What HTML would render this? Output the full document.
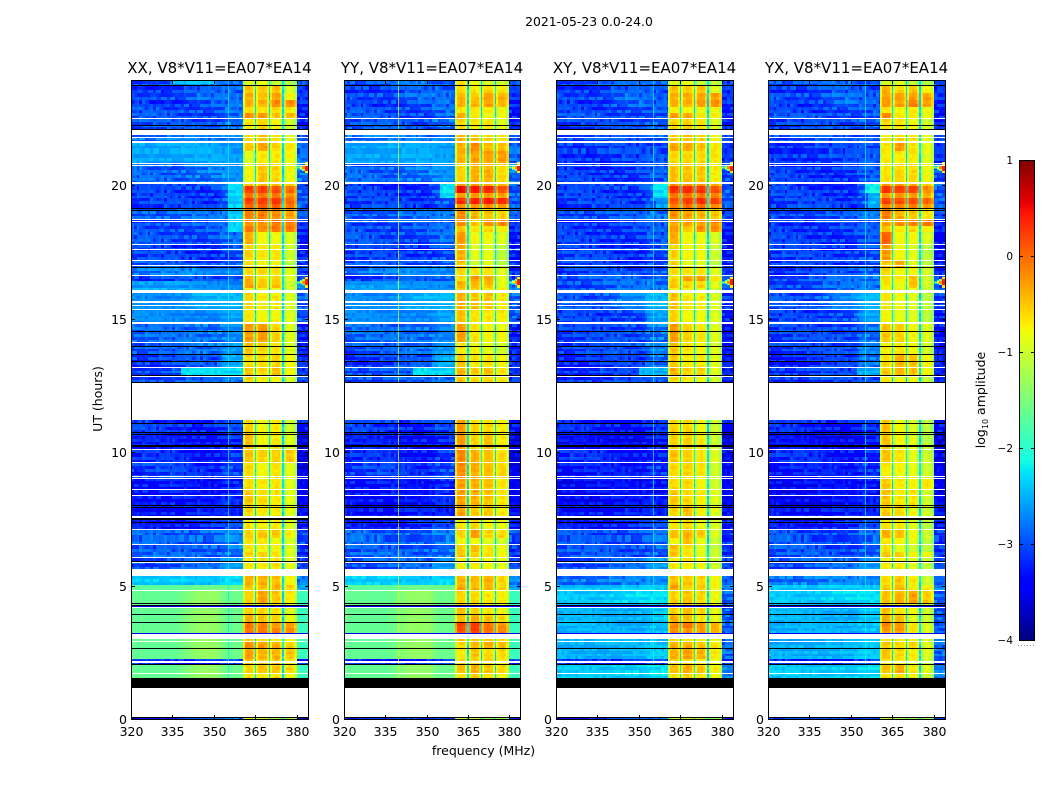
<!DOCTYPE html>
<html lang="en">
<head>
<meta charset="utf-8">
<title>2021-05-23 0.0-24.0</title>
<style>
html,body{margin:0;padding:0;background:#fff;width:1050px;height:800px;overflow:hidden}
svg{display:block}
text{font-family:"DejaVu Sans","Liberation Sans",sans-serif;fill:#000}
</style>
</head>
<body>
<svg id="figure" xmlns="http://www.w3.org/2000/svg" width="1050" height="800" viewBox="0 0 1050 800">
<text x="589" y="26" font-size="12.4" text-anchor="middle">2021-05-23 0.0-24.0</text>
<text transform="translate(102,399) rotate(-90)" font-size="12.5" text-anchor="middle">UT (hours)</text>
<text x="483.5" y="755" font-size="12.5" text-anchor="middle">frequency (MHz)</text>
<text transform="translate(985,400) rotate(-90)" font-size="12.5" text-anchor="middle">log<tspan font-size="8" dy="3">10</tspan><tspan dy="-3"> amplitude</tspan></text>
<g id="panels"></g>
<g id="colorbar"></g>
</svg>
<script>
// ---------- chart data (hours, MHz and log10 amplitude) ----------
const panelTitles = ["XX, V8*V11=EA07*EA14","YY, V8*V11=EA07*EA14","XY, V8*V11=EA07*EA14","YX, V8*V11=EA07*EA14"];
const xTickLabels = [320,335,350,365,380];
const yTickLabels = [0,5,10,15,20];
const cbarTickLabels = [1,0,-1,-2,-3,-4];

// top edge (UT hours) of each time band; a band ends where the next starts
const rowTopHours = [
23.90,23.71,23.45,23.18,22.92,22.70,22.47,22.06,21.57,21.27,20.79,20.03,19.96,19.70,19.51,19.29,19.14,
18.73,18.46,18.24,17.75,17.19,16.89,16.59,16.40,16.14,15.96,15.32,14.79,14.08,13.67,13.15,12.85,
12.58,
11.20,10.71,10.07,9.59,9.03,8.58,8.01,7.53,7.08,6.78,6.52,6.25,6.03,5.36,5.02,4.79,4.34,3.93,3.60,3.41,3.22,2.88,2.66,2.23,2.06,1.72,
1.54,0.06];

// parallel-hand background levels per band: [320-336, 344-351, 354-360, 380-384 MHz]
const lowParallel = [
[-3.0,-2.8,-2.9,-3.0],[-3.1,-3.0,-2.9,-3.2],[-3.0,-2.9,-2.9,-3.2],[-3.1,-3.0,-2.9,-3.2],[-3.0,-3.0,-2.9,-3.2],[-3.0,-3.0,-2.9,-3.2],
[-3.0,-3.0,-2.8,-3.2],[-2.8,-2.8,-2.7,-3.0],[-2.55,-2.55,-2.6,-2.9],[-2.55,-2.55,-2.6,-2.9],[-2.9,-2.8,-2.7,-2.8],
[-3.1,-3.1,-2.9,-2.9],[-3.1,-3.1,-2.9,-2.9],[-3.1,-3.1,-2.9,-2.9],[-3.1,-3.1,-2.9,-2.9],[-3.1,-3.1,-2.9,-2.9],
[-2.9,-2.9,-2.8,-3.0],[-3.0,-3.0,-2.9,-3.2],[-3.0,-3.0,-2.9,-3.2],[-3.0,-3.0,-2.9,-3.2],[-3.1,-3.1,-3.0,-3.2],[-3.0,-3.0,-2.9,-3.1],
[-2.8,-2.7,-2.7,-3.1],[-3.1,-3.0,-2.9,-3.1],[-2.6,-2.7,-2.7,-2.8],[-2.5,-2.7,-2.7,-2.8],[-2.7,-2.5,-2.5,-2.9],[-2.7,-2.7,-2.6,-2.9],
[-2.9,-2.8,-2.7,-3.2],[-3.0,-2.8,-2.6,-3.2],[-3.1,-3.0,-2.5,-3.2],[-3.0,-3.0,-2.4,-3.2],[-3.0,-3.0,-2.8,-3.1],
null,
[-3.1,-3.2,-3.1,-3.3],[-3.3,-3.3,-3.2,-3.5],[-3.2,-3.3,-3.1,-3.5],[-3.1,-3.2,-3.0,-3.5],[-3.3,-3.4,-3.2,-3.5],[-3.3,-3.4,-3.2,-3.5],
[-3.3,-3.3,-3.3,-3.4],[-3.3,-3.2,-3.1,-3.3],[-2.9,-2.9,-2.8,-3.0],[-2.9,-2.9,-2.8,-3.0],[-3.0,-2.9,-2.8,-3.1],[-2.9,-2.9,-2.8,-3.1],
[-3.0,-2.9,-2.6,-3.1],[-2.35,-2.45,-2.3,-2.8],[-1.7,-1.6,-1.6,-2.6],[-1.65,-1.35,-1.6,-1.9],[-1.65,-1.35,-1.6,-1.9],[-1.65,-1.35,-1.6,-1.9],
[-1.65,-1.35,-1.6,-1.9],[-1.65,-1.35,-1.6,-1.9],[-1.65,-1.35,-1.6,-1.9],[-1.65,-1.35,-1.6,-1.9],[-1.65,-1.35,-1.6,-1.9],[-3.2,-3.2,-3.1,-3.2],
[-1.65,-1.35,-1.6,-1.9],[-1.65,-1.35,-1.6,-1.9],
null,[-3.3,-3.0,-2.9,-3.3]];

// cross-hand background levels per band
const lowCross = [
[-3.0,-2.9,-2.9,-3.1],[-3.1,-3.0,-3.0,-3.2],[-3.0,-2.9,-3.0,-3.2],[-3.1,-2.9,-3.0,-3.2],[-3.1,-3.0,-3.0,-3.2],[-3.0,-3.0,-3.0,-3.2],
[-3.1,-3.0,-2.9,-3.2],[-3.0,-3.0,-2.9,-3.1],[-3.1,-3.1,-3.0,-3.2],[-3.1,-3.1,-3.0,-3.2],[-3.1,-3.1,-3.0,-3.0],
[-3.1,-3.1,-2.9,-2.9],[-3.1,-3.1,-2.9,-2.9],[-3.1,-3.1,-2.9,-2.9],[-3.1,-3.1,-2.9,-2.9],[-3.1,-3.1,-2.9,-2.9],
[-3.0,-3.0,-2.8,-3.1],[-3.1,-3.1,-3.0,-3.3],[-3.1,-3.1,-3.0,-3.3],[-3.1,-3.1,-3.0,-3.3],[-3.1,-3.1,-3.0,-3.3],[-3.1,-3.1,-3.0,-3.2],
[-3.1,-3.0,-2.9,-3.2],[-3.0,-2.9,-2.8,-3.0],[-3.0,-2.9,-2.8,-3.0],[-3.0,-2.9,-2.8,-3.0],[-3.0,-2.7,-2.5,-3.1],[-3.1,-3.0,-2.6,-3.2],
[-3.1,-3.0,-2.8,-3.3],[-3.1,-3.0,-2.7,-3.3],[-3.2,-3.1,-2.8,-3.3],[-3.1,-3.1,-2.5,-3.3],[-3.1,-3.1,-3.0,-3.3],
null,
[-3.2,-3.3,-3.2,-3.3],[-3.4,-3.4,-3.3,-3.5],[-3.2,-3.3,-3.2,-3.4],[-3.3,-3.3,-3.1,-3.4],[-3.4,-3.4,-3.3,-3.5],[-3.4,-3.4,-3.3,-3.5],
[-3.3,-3.3,-3.3,-3.4],[-3.3,-3.2,-3.1,-3.3],[-3.0,-3.0,-2.9,-3.1],[-3.0,-3.0,-2.9,-3.1],[-3.0,-3.0,-2.9,-3.1],[-3.0,-3.0,-2.9,-3.1],
[-3.0,-2.9,-2.6,-3.1],[-2.8,-2.8,-2.7,-3.0],[-2.4,-2.4,-2.4,-2.8],[-2.4,-2.3,-2.3,-2.9],[-2.5,-2.5,-2.4,-2.9],[-2.5,-2.5,-2.4,-2.9],
[-2.5,-2.5,-2.4,-2.9],[-2.5,-2.5,-2.4,-2.9],[-2.5,-2.5,-2.4,-2.9],[-2.5,-2.5,-2.4,-2.9],[-2.5,-2.5,-2.4,-2.9],[-3.2,-3.2,-3.1,-3.2],
[-2.4,-2.35,-2.3,-2.7],[-2.4,-2.35,-2.3,-2.7],
null,[-3.2,-3.0,-2.9,-3.2]];

// four in-band spectral-window levels per band, one table per correlation
const hotXX = [
[-.9,-.9,-1.1,-1.2],[-.5,-.5,-.5,-1.0],[-.4,-.5,-.3,-.8],[-.4,-.4,-.2,-.2],[-.7,-.7,-.6,-.7],[-.2,-.3,-.5,-.4],[-.7,-.6,-.8,-1.0],
[-.6,-.5,-.7,-.9],[-.5,-.3,-.6,-.7],[-.9,-.7,-.7,-.8],[-.8,-.5,-.6,-.8],[-.5,-.4,-.4,-.5],[.2,.2,.15,0],[-.1,-.1,-.1,-.2],[.2,.2,.25,0],
[0,0,0,-.1],[-.1,-.1,-.2,-.3],[-.2,-.2,-.1,-.1],[-.1,-.2,-.05,-.1],[-.4,-.8,-.8,-.9],[-.6,-.7,-.7,-1.0],[-.7,-.8,-.8,-1.1],
[-.6,-.6,-.7,-.9],[-.4,-.6,-.6,-.9],[-.3,-.5,-.5,-1.0],[-.7,-.7,-.8,-1.0],[-.6,-.7,-.7,-.9],[-.7,-.8,-.8,-.9],[-.3,-.3,-.6,-.9],
[-.5,-.6,-.7,-.9],[-.6,-.6,-.6,-.8],[-.5,-.6,-.5,-.8],[-.6,-.7,-.8,-1.0],
null,
[-.6,-.8,-.7,-1.0],[-.5,-.8,-.7,-.9],[-.5,-.6,-.6,-.5],[-.6,-.8,-.7,-.9],[-.6,-.7,-.7,-.9],[-.5,-.6,-.7,-.9],[-.6,-.7,-.7,-.9],[-.7,-.7,-.7,-.9],
[-.6,-.5,-.5,-.7],[-.7,-.7,-.8,-.9],[-.7,-.8,-.8,-.9],[-.6,-.6,-.7,-.9],[-.7,-.7,-.7,-.9],[-.4,-.4,-.5,-.8],[-.5,-.5,-.4,-.6],[-.6,-.3,-.5,-.7],
[-.6,-.6,-.7,-.9],[-.4,-.5,-.6,-.8],[-.1,-.15,-.3,-.3],[-.1,-.15,-.2,-.2],[-.5,-.6,-.7,-.8],[-.2,-.3,-.4,-.6],[-.3,-.4,-.4,-.5],[-.5,-.5,-.5,-.6],
[-.6,-.5,-.5,-.6],[-.7,-.7,-.7,-.8],
null,[-1.0,-1.1,-1.2,-1.2]];

const hotYY = [
[-.6,-.8,-1.0,-1.0],[-.6,-.7,-.6,-.7],[-.4,-.5,-.3,-.4],[-.4,-.4,-.3,-.4],[-.7,-.7,-.7,-.8],[-.4,-.7,-.8,-.8],[-.6,-.7,-.7,-.9],
[-.4,-.5,-.6,-.7],[-.4,-.2,-.5,-.5],[-.4,-.3,-.3,-.3],[-.6,-.4,-.4,-.6],[-.3,-.3,-.4,-.4],[.45,.4,.35,.1],[-.3,-.3,-.3,-.3],[.3,.35,.35,.3],
[-.2,-.2,-.2,-.3],[-.2,-.4,-.5,-.6],[-.2,-.5,-.2,-.2],[-.5,-.7,-.6,-.7],[-.3,-.8,-.8,-.9],[-.4,-.9,-.9,-1.1],[-.5,-1.0,-.9,-1.1],
[-.6,-.7,-.7,-.9],[-.6,-.3,-.4,-.9],[-.4,-.4,-.5,-.9],[-.6,-.6,-.7,-.8],[-.4,-.5,-.5,-.7],[-.5,-.7,-.7,-.7],[-.3,-.7,-.8,-.8],
[-.7,-.8,-.9,-1.0],[-.5,-.7,-.7,-.8],[-.4,-.5,-.5,-.7],[-.5,-.6,-.6,-.7],
null,
[-.3,-.6,-.6,-.7],[-.3,-.6,-.5,-.7],[-.2,-.4,-.5,-.6],[-.2,-.4,-.5,-.6],[-.3,-.4,-.5,-.7],[-.3,-.4,-.5,-.7],[-.3,-.5,-.5,-.7],[-.7,-.6,-.8,-.8],
[-.6,-.3,-.6,-.6],[-.8,-.8,-.9,-1.0],[-.6,-.5,-.7,-.8],[-.5,-.6,-.7,-.8],[-.7,-.7,-.8,-.9],[-.4,-.4,-.4,-.6],[-.3,-.4,-.4,-.6],[-.6,-.6,-.7,-.7],
[-.5,-.6,-.7,-.8],[-.5,-.4,-.5,-.6],[.15,.2,-.1,-.2],[.1,.2,-.1,-.2],[-.5,-.5,-.6,-.7],[-.6,-.4,-.4,-.5],[-.7,-.5,-.6,-.6],[-.6,-.6,-.6,-.7],
[-.5,-.4,-.5,-.6],[-.7,-.6,-.7,-.8],
null,[-1.0,-1.1,-1.2,-1.2]];

const hotXY = [
[-.9,-.9,-1.1,-1.1],[-.5,-.5,-.5,-.9],[-.4,-.4,-.3,-.3],[-.4,-.4,-.3,-.2],[-.8,-.8,-.8,-.8],[-.3,-.4,-.7,-.7],[-.6,-.6,-.7,-.9],
[-.5,-.5,-.6,-.8],[-.3,-.3,-.5,-.7],[-.6,-.6,-.6,-.7],[-.5,-.5,-.5,-.7],[-.2,-.2,-.2,-.3],[.3,.3,.3,.15],[-.1,-.1,-.1,-.1],[.1,.2,.3,.2],
[-.1,-.1,-.1,-.2],[-.2,-.3,-.4,-.5],[-.3,-.3,-.3,-.2],[-.3,-.5,-.2,-.2],[-.4,-.8,-.8,-.9],[-.6,-.8,-.8,-1.0],[-.6,-.9,-.9,-1.1],
[-.6,-.7,-.7,-.9],[-.6,-.3,-.3,-.7],[-.5,-.6,-.6,-.9],[-.7,-.7,-.8,-1.0],[-.5,-.7,-.7,-.9],[-.6,-.8,-.8,-.9],[-.3,-.6,-.7,-.9],
[-.5,-.7,-.8,-.9],[-.5,-.7,-.7,-.9],[-.4,-.6,-.6,-.9],[-.6,-.7,-.8,-1.0],
null,
[-.6,-.6,-.8,-1.0],[-.6,-.6,-.7,-1.0],[-.5,-.6,-.7,-.9],[-.6,-.6,-.7,-1.0],[-.6,-.6,-.8,-1.0],[-.5,-.6,-.7,-.9],[-.6,-.5,-.7,-.9],[-.7,-.6,-.8,-.9],
[-.5,-.4,-.5,-.9],[-.8,-.5,-.8,-1.0],[-.5,-.7,-.9,-1.0],[-.5,-.7,-.9,-1.0],[-.7,-.7,-.8,-1.0],[-.5,-.5,-.6,-.8],[-.3,-.6,-.5,-.8],[-.6,-.5,-.6,-.8],
[-.6,-.5,-.6,-.8],[-.4,-.5,-.7,-.8],[-.2,-.1,-.3,-.4],[-.2,-.3,-.3,-.4],[-.6,-.6,-.7,-.8],[-.4,-.4,-.5,-.7],[-.4,-.3,-.4,-.7],[-.6,-.6,-.7,-.8],
[-.5,-.4,-.5,-.7],[-.7,-.6,-.7,-.8],
null,[-1.0,-1.1,-1.2,-1.2]];

const hotYX = [
[-.9,-.9,-1.1,-1.2],[-.4,-.6,-.5,-.8],[-.3,-.3,-.3,-.3],[-.3,-.3,-.1,-.3],[-.7,-.8,-.7,-.8],[-.2,-.7,-.7,-.8],[-.6,-.7,-.8,-1.0],
[-.7,-.6,-.7,-.9],[-.7,-.3,-.7,-.9],[-.7,-.7,-.7,-.9],[-.7,-.6,-.6,-.8],[-.3,-.3,-.4,-.5],[.25,.2,.2,-.2],[-.3,-.3,-.3,-.4],[.2,.1,.1,0],
[-.1,-.1,-.1,-.3],[-.1,-.4,-.5,-.7],[-.3,-.2,-.1,-.1],[-.5,-.7,-.6,-.7],[.0,-.8,-.8,-.9],[-.3,-.8,-.9,-1.1],[-.5,-.4,-.9,-1.1],
[-.6,-.8,-.8,-1.0],[-.6,-.7,-.5,-1.0],[-.7,-.8,-.5,-1.0],[-.8,-.8,-.8,-1.1],[-.7,-.8,-.9,-1.1],[-.8,-.9,-.9,-1.1],[-.5,-.6,-.8,-.9],
[-.7,-.7,-.8,-1.0],[-.6,-.4,-.5,-.8],[-.5,-.4,-.5,-.8],[-.7,-.8,-.8,-1.1],
null,
[-.5,-.8,-.9,-1.1],[-.5,-.8,-.9,-1.1],[-.5,-.7,-.9,-1.0],[-.7,-.8,-.9,-1.0],[-.5,-.7,-.8,-.7],[-.5,-.7,-.7,-1.0],[-.5,-.6,-.8,-1.0],[-.7,-.7,-.9,-1.1],
[-.4,-.5,-.8,-1.0],[-.7,-.8,-.9,-1.1],[-.7,-.9,-1.0,-1.1],[-.5,-.6,-.8,-.8],[-.7,-.7,-.9,-1.1],[-.6,-.5,-.7,-1.0],[-.5,-.4,-.7,-.7],[-.5,-.4,-.3,-.5],
[-.5,-.7,-.8,-1.0],[-.4,-.5,-.9,-1.0],[-.2,-.3,-.7,-.9],[-.3,-.3,-.7,-.9],[-.7,-.7,-.8,-1.0],[-.5,-.6,-.6,-.9],[-.5,-.6,-.7,-.9],[-.7,-.7,-.8,-1.0],
[-.5,-.4,-.7,-.9],[-.7,-.7,-.8,-1.0],
null,[-1.0,-1.1,-1.2,-1.2]];

// flagged integrations: white (no data), black (zero data), dark blue (near-zero) [top hour, bottom hour]
const whiteGaps = [
[22.51,22.46],[22.08,21.87],[21.80,21.76],[21.63,21.57],[20.84,20.79],[20.75,20.71],[20.11,20.03],[18.74,18.69],[18.65,18.61],[17.80,17.75],
[17.60,17.57],[17.19,17.15],[17.00,16.97],[16.63,16.58],[16.05,15.96],[15.64,15.59],[15.51,15.47],[15.36,15.32],[14.86,14.78],[14.11,14.07],
[13.18,13.15],[12.84,12.80],[12.60,11.21],[10.11,10.07],[9.61,9.57],[9.09,9.05],[9.03,8.99],[8.61,8.58],[8.39,8.35],[7.60,7.53],[7.10,7.07],
[6.54,6.50],[6.06,6.02],[5.88,5.84],[5.62,5.37],[4.82,4.78],[4.21,4.16],[3.19,3.04],[3.02,2.98],[2.92,2.88],[2.17,2.08],[1.72,1.68],[1.17,0.08]];
const blackBands = [
[23.75,23.71],[22.25,22.21],[22.10,22.06],[19.14,19.10],[19.06,19.03],[16.93,16.89],[14.53,14.49],[13.97,13.93],[13.67,13.63],[13.40,13.36],
[12.88,12.84],[12.62,12.58],[11.07,11.03],[10.74,10.70],[10.66,10.62],[10.27,10.24],[10.21,10.17],[8.01,7.98],[7.94,7.90],[7.51,7.47],[7.38,7.34],
[5.92,5.88],[4.34,4.31],[4.27,4.23],[3.92,3.88],[3.63,3.60],[2.66,2.62],[2.07,2.03],[1.52,1.17],[0.08,0.03]];
const darkBands = [[4.23,4.21],[3.22,3.19]];

// local patches: [panel, top hour, bottom hour, low MHz, high MHz, level]
const patches = [
[0,20.03,18.24,355,360.4,-2.35],[0,23.90,23.75,335,350,-2.4],[0,13.10,12.85,338,360.4,-2.3],
[1,20.00,19.55,355,360.4,-2.3],[1,13.15,12.85,345,360.4,-2.3],
[2,20.00,19.55,355,360.4,-2.3],[2,19.55,19.14,356,360.4,-2.6],[2,13.10,12.85,350,360.4,-2.5],
[3,20.00,19.70,355,360.4,-2.2],[3,19.70,19.14,356,360.4,-2.5],[3,13.10,12.85,352,360.4,-2.5]];
// narrow interference lines: [panel, MHz, level]
const rfiLines = [[0,355,-2.2],[1,339.7,-1.0],[2,355,-2.2],[3,355,-2.2]];
// edge-of-band flares: hours, then level and height (hours) for each MHz of the 380-384 edge
const flareHours = [20.65,16.36];
const flareGlowLevels = [-2.4,-2.0,-1.4,-0.7];
const flareGlowSpans = [0.12,0.16,0.22,0.42];
const flareLevels = [-1.6,-0.8,-0.2,0.4];
const flareSpans = [0.04,0.08,0.12,0.22];

const bandShape = [-0.35,0,0.05,0,-0.25];
const gapLevel = -2.3;
// approximate fine-grain channel scatter, read by eye from the speckled background
const scatter = [
[-.25,.18,-.05,.3,-.3,.1,.22,-.15,.05,-.28,.14],
[.12,-.3,.25,-.1,.08,-.22,.33,.02,-.18,.2,-.07],
[-.08,.22,-.28,.16,.3,-.12,-.24,.26,.1,-.05,-.3],
[.3,-.14,.06,-.26,.18,.24,-.02,-.3,.28,.12,-.2],
[-.2,.04,.28,.1,-.24,.32,-.16,.08,-.1,.24,.02],
[.16,-.26,-.1,.24,.02,-.18,.12,.3,-.28,-.04,.2],
[.04,.26,-.2,-.32,.22,.06,-.1,-.2,.34,.16,-.14]];

// jet colormap anchors [position, value]
const jetR = [[0,0],[.35,0],[.66,1],[.89,1],[1,.5]];
const jetG = [[0,0],[.125,0],[.375,1],[.64,1],[.91,0],[1,0]];
const jetB = [[0,.5],[.11,1],[.34,1],[.65,0],[1,0]];

// ---------- scales ----------
const panelLefts = [131,344,556,768];
const panelRights = [308,520,733,945];
const yBottom = 719, yTop = 81, pxPerHour = 26.7;
const freqMin = 320, freqMax = 384;
const cbarLeft = 1019, cbarRight = 1034, cbarTop = 160, cbarBottom = 640;
function yScale(h){ return Math.round(yBottom - pxPerHour*h); }
function xScale(p,f){ return Math.round(panelLefts[p] + (f-freqMin)/(freqMax-freqMin)*(panelRights[p]-panelLefts[p])); }
function cbarY(v){ return cbarBottom - (v+4)/5*(cbarBottom-cbarTop); }
function interp(tbl,t){
  for(let i=1;i<tbl.length;i++){ if(t<=tbl[i][0]){ const a=tbl[i-1],b=tbl[i]; return a[1]+(b[1]-a[1])*(t-a[0])/(b[0]-a[0]); } }
  return tbl[tbl.length-1][1];
}
function jet(v){
  const t=Math.max(0,Math.min(1,(v+4)/5));
  return 'rgb('+Math.round(255*interp(jetR,t))+','+Math.round(255*interp(jetG,t))+','+Math.round(255*interp(jetB,t))+')';
}
const lowSets = [lowParallel,lowParallel,lowCross,lowCross];
const hotSets = [hotXX,hotYY,hotXY,hotYX];
const channelEdges = [];
for(let f=320;f<=360;f++) channelEdges.push(f);
channelEdges.push(360.4,361.2,362,363,364,364.75,365.35,366,367,368,369,369.75,370.35,371,372,373,374,374.75,375.35,376,377,378,379,380,381,382,383,384);

function lowLevel(l,f){
  if(f<=336) return l[0];
  if(f<344) return l[0]+(l[1]-l[0])*(f-336)/8;
  if(f<=351) return l[1];
  if(f<354) return l[1]+(l[2]-l[1])*(f-351)/3;
  return l[2];
}
function speckleAmp(v){ return v<-2.7 ? 0.8 : (v<-2 ? 0.4 : 0.06); }
function cellLevel(p,r,f,slice,col,hMid){
  const low=lowSets[p][r], hot=hotSets[p][r];
  let v, amp;
  if(f<360.4){
    v=lowLevel(low,f);
    for(const q of patches){ if(q[0]===p && hMid<=q[1] && hMid>q[2] && f>=q[3] && f<q[4]) v=q[5]; }
    amp=speckleAmp(v);
  } else if(f>=380){
    v=low[3]; amp=speckleAmp(v);
  } else if(f<361.2){
    v=hot[0]-0.45; amp=0.2;
  } else if((f>364.75&&f<365.35)||(f>369.75&&f<370.35)||(f>374.75&&f<375.35)){
    v=gapLevel; amp=0.4;
  } else {
    const b=Math.min(3,Math.floor((f-360)/5));
    v=hot[b]+bandShape[Math.min(4,Math.floor(f-360-5*b))]; amp=0.25;
  }
  return v + amp*scatter[(slice+p*3+col)%7][(col+p*5+slice*3)%11];
}

// ---------- drawing ----------
const NS='http://www.w3.org/2000/svg';
function mk(tag,parent,attrs){
  const el=document.createElementNS(NS,tag);
  for(const k in attrs) el.setAttribute(k,attrs[k]);
  parent.appendChild(el);
  return el;
}
const panelsG=document.getElementById('panels');
panelTitles.forEach(function(title,p){
  const g=mk('g',panelsG,{});
  
  
  const L=panelLefts[p], R=panelRights[p];
  // heatmap cells
  rowTopHours.forEach(function(top,r){
    if(!lowSets[p][r]) return;
    const bottom = r+1<rowTopHours.length ? rowTopHours[r+1] : 0;
    const y0=Math.max(yTop,yScale(top)), y1=yScale(bottom);
    const n=Math.max(1,Math.round((y1-y0)/3));
    for(let s=0;s<n;s++){
      const sy0=y0+Math.round((y1-y0)*s/n), sy1=y0+Math.round((y1-y0)*(s+1)/n);
      const hMid=(yBottom-(sy0+sy1)/2)/pxPerHour;
      for(let c=0;c<channelEdges.length-1;c++){
        const x0=xScale(p,channelEdges[c]), x1=xScale(p,channelEdges[c+1]);
        if(x1<=x0) continue;
        const lv=cellLevel(p,r,(channelEdges[c]+channelEdges[c+1])/2,s+r*2,c,hMid);
        const cell=mk('rect',g,{x:x0,y:sy0,width:x1-x0,height:sy1-sy0,fill:jet(lv),'shape-rendering':'crispEdges'});
        
        
      }
    }
  });
  // flares: wide faint glow, then narrow bright core
  flareHours.forEach(function(h){
    flareGlowLevels.forEach(function(lv,i){
      const x0=xScale(p,380+i), x1=xScale(p,381+i);
      const y0=yScale(h+flareGlowSpans[i]/2), y1=yScale(h-flareGlowSpans[i]/2);
      const gl=mk('rect',g,{x:x0,y:y0,width:x1-x0,height:Math.max(1,y1-y0),fill:jet(lv),'shape-rendering':'crispEdges'});
      
      
    });
    flareLevels.forEach(function(lv,i){
      const x0=xScale(p,380+i), x1=xScale(p,381+i);
      const y0=yScale(h+flareSpans[i]/2), y1=yScale(h-flareSpans[i]/2);
      const fl=mk('rect',g,{x:x0,y:y0,width:x1-x0,height:Math.max(1,y1-y0),fill:jet(lv),'shape-rendering':'crispEdges'});
      
      
    });
  });
  // interference lines
  rfiLines.forEach(function(q){
    if(q[0]!==p) return;
    const rl=mk('rect',g,{x:xScale(p,q[1]),y:yTop,width:1,height:yScale(1.54)-yTop,fill:jet(q[2]),opacity:0.75,'shape-rendering':'crispEdges'});
    
    
  });
  // flagged bands
  function band(list,color,name){
    list.forEach(function(b){
      const y0=yScale(b[0]), y1=yScale(b[1]);
      const el=mk('rect',g,{x:L,y:y0,width:R-L,height:Math.max(1,y1-y0),fill:color,'shape-rendering':'crispEdges'});
      
      
    });
  }
  band(darkBands,jet(-3.5),'low-signal-band');
  band(whiteGaps,'#ffffff','flagged-gap');
  band(blackBands,'#000000','zero-band');
  // frame
  const fr=mk('rect',g,{x:L+0.5,y:yTop-0.5,width:R-L,height:yBottom-yTop+1,fill:'none',stroke:'#000','stroke-width':1,'shape-rendering':'crispEdges'});
  
  
  // ticks and labels
  xTickLabels.forEach(function(t){
    const x=xScale(p,t)+0.5;
    const tk=mk('path',g,{d:'M'+x+' '+yBottom+'v-4M'+x+' '+(yTop-1)+'v4',stroke:'#000','stroke-width':1,fill:'none','shape-rendering':'crispEdges'});
    
    
    const lb=mk('text',g,{x:x,y:736,'font-size':12.5,'text-anchor':'middle'});
    lb.textContent=String(t);
    
    
  });
  yTickLabels.forEach(function(t){
    const y=yScale(t)+0.5;
    const tk=mk('path',g,{d:'M'+L+' '+y+'h4M'+(R+1)+' '+y+'h-4',stroke:'#000','stroke-width':1,fill:'none','shape-rendering':'crispEdges'});
    
    
    const lb=mk('text',g,{x:L-4,y:y+4.5,'font-size':12.5,'text-anchor':'end'});
    lb.textContent=String(t);
    
    
  });
  const tt=mk('text',g,{x:(L+R)/2,y:73,'font-size':15,'text-anchor':'middle'});
  tt.textContent=title;
  
  
});

// ---------- colour bar ----------
const cb=document.getElementById('colorbar');
for(let i=0;i<cbarBottom-cbarTop;i++){
  const v=-4+5*(i+0.5)/(cbarBottom-cbarTop);
  const seg=mk('rect',cb,{x:cbarLeft,y:cbarBottom-i-1,width:cbarRight-cbarLeft+1,height:1,fill:jet(v),'shape-rendering':'crispEdges'});
  
  
}
const cbf=mk('rect',cb,{x:cbarLeft+0.5,y:cbarTop+0.5,width:cbarRight-cbarLeft,height:cbarBottom-cbarTop,fill:'none',stroke:'#000','stroke-width':1,'shape-rendering':'crispEdges'});


cbarTickLabels.forEach(function(t){
  const y=Math.round(cbarY(t))+0.5;
  const tk=mk('path',cb,{d:'M'+cbarLeft+' '+y+'h4M'+(cbarRight+1)+' '+y+'h-4',stroke:'#000','stroke-width':1,fill:'none','shape-rendering':'crispEdges'});
  
  
  const lb=mk('text',cb,{x:1013,y:y+3.5,'font-size':10.5,'text-anchor':'end'});
  lb.textContent=String(t).replace('-','\u2212');
  
  
});
const dots=mk('path',cb,{d:'M1018 645.5H1034',stroke:'#999','stroke-width':1,'stroke-dasharray':'1 2',fill:'none'});


</script>
</body>
</html>
